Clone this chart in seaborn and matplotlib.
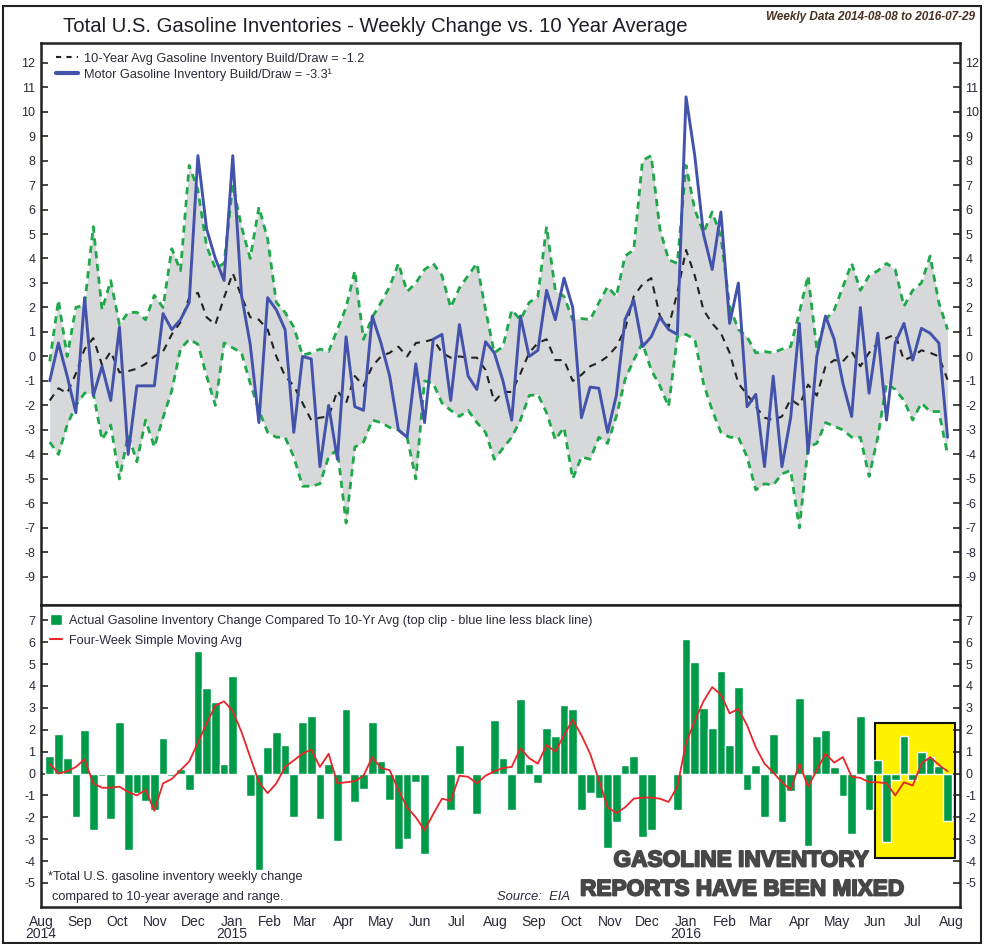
import numpy as np
import pandas as pd
import seaborn as sns
import matplotlib.pyplot as plt
import matplotlib.dates as mdates
import matplotlib.patheffects as pe
from matplotlib.patches import Rectangle, Patch
from matplotlib.lines import Line2D

# weekly data 2014-08-08 .. 2016-07-29
dates = pd.date_range('2014-08-08', periods=104, freq='7D')

blue_build = [-1.0, 0.55, -0.8, -2.3, 2.4, -1.6, -0.4, -1.8, 1.2, -4.0,
              -1.2, -1.2, -1.2, 1.75, 1.1, 1.5, 2.2, 8.2, 5.2, 4.0,
              3.1, 8.2, 2.5, 0.5, -2.7, 2.4, 1.9, 1.1, -3.1, 0.0,
              -0.1, -4.5, -2.0, -4.2, 0.8, -2.05, -2.2, 1.65, 0.55, -0.8,
              -3.0, -3.3, -0.3, -2.7, 0.7, 0.9, -1.8, 1.3, -0.8, -1.35,
              0.6, 0.15, -1.0, -2.6, 1.65, 0.0, 0.25, 2.7, 1.5, 3.2,
              2.0, -2.5, -1.25, -1.3, -3.1, -1.6, 1.5, 2.3, 0.4, 0.8,
              1.6, 1.1, 0.9, 10.6, 8.2, 5.0, 3.55, 5.9, 1.35, 3.0,
              -2.05, -1.55, -4.5, -0.8, -4.5, -2.5, 1.35, -3.95, 0.0, 1.65,
              0.7, -1.1, -2.45, 2.0, -1.5, 0.95, -2.6, 0.55, 1.35, -0.15,
              1.15, 0.95, 0.55, -3.3]

avg_10yr = [-1.8, -1.3, -1.5, -0.7, 0.3, 0.75, -0.35, 0.2, -0.65, -0.6,
            -0.5, -0.3, 0.0, 0.2, 0.9, 1.4, 2.4, 2.6, 1.6, 1.3,
            2.4, 3.4, 2.45, 1.6, 1.5, 1.1, 0.0, -0.8, -1.2, -1.9,
            -2.6, -2.5, -2.45, -1.4, -1.9, -0.8, -1.2, -0.4, 0.0, 0.15,
            0.4, 0.0, 0.55, 0.6, 0.7, 0.15, -0.05, 0.0, -0.05, -0.05,
            -0.55, -1.85, -1.45, -1.45, -0.7, 0.15, 0.55, 0.7, -0.15, -0.15,
            -1.0, -0.75, -0.4, -0.25, 0.0, 0.4, 1.1, 2.45, 2.95, 3.2,
            1.65, 1.2, 2.6, 4.35, 3.3, 1.9, 1.35, 0.95, 0.15, -1.1,
            -1.55, -2.05, -2.5, -2.6, -2.45, -1.75, -2.0, -1.15, -1.6, -0.4,
            -0.15, -0.2, 0.2, -0.4, 0.15, 0.55, 0.75, 0.9, -0.15, 0.0,
            0.25, 0.15, 0.0, -0.95]

range_hi = [-0.2, 2.3, 0.0, 2.0, 2.1, 5.3, 1.9, 3.1, 1.3, 1.8,
            1.8, 1.5, 2.5, 2.0, 4.4, 3.5, 7.8, 6.8, 4.5, 3.6,
            3.8, 7.0, 5.3, 4.0, 6.1, 4.8, 2.2, 1.8, 1.2, 0.05,
            0.15, 0.3, 0.2, 1.1, 2.0, 3.5, 0.7, 1.6, 2.2, 2.85,
            3.8, 2.65, 3.0, 3.55, 3.8, 3.3, 2.0, 2.8, 3.3, 3.8,
            1.9, 0.15, 0.4, 1.9, 1.5, 2.2, 2.45, 5.3, 2.7, 2.45,
            1.5, 1.55, 1.5, 2.2, 2.85, 2.45, 4.1, 4.35, 8.0, 8.2,
            5.2, 3.95, 3.8, 7.8, 6.0, 5.05, 5.9, 4.9, 2.05, 1.1,
            0.8, 0.15, 0.2, 0.15, 0.3, 0.4, 1.8, 3.3, 0.3, 1.5,
            1.9, 2.85, 3.8, 2.7, 3.3, 3.5, 3.8, 3.55, 2.05, 2.7,
            3.0, 4.1, 2.2, 1.1]

range_lo = [-3.5, -4.0, -2.8, -2.0, -1.5, -1.5, -3.4, -2.8, -5.0, -3.2,
            -4.3, -2.6, -3.7, -2.5, -1.4, 0.3, 0.7, 0.5, -0.8, -2.0,
            0.55, 0.35, 0.15, -1.1, -2.2, -3.1, -3.3, -3.3, -4.1, -5.3,
            -5.3, -5.2, -4.1, -3.8, -6.8, -3.7, -3.5, -2.6, -2.7, -2.9,
            -3.0, -3.3, -5.0, -1.0, -1.1, -1.9, -2.2, -2.45, -2.2, -2.7,
            -3.1, -4.2, -3.75, -3.3, -2.6, -1.6, -1.55, -2.3, -3.4, -2.9,
            -5.0, -4.1, -4.2, -3.3, -3.55, -2.45, -0.95, -0.15, 0.55, -0.55,
            -1.2, -2.05, 0.8, 0.9, 0.7, -1.1, -2.2, -3.1, -3.3, -3.3,
            -4.1, -5.45, -5.2, -5.25, -4.8, -4.65, -7.0, -3.7, -3.55, -2.7,
            -2.85, -3.0, -3.3, -3.3, -4.9, -3.3, -1.1, -1.35, -1.8, -2.6,
            -1.9, -2.25, -2.25, -4.0]

vs_avg = [0.8, 1.8, 0.7, -2.0, 2.0, -2.6, -0.1, -2.1, 2.35, -3.5,
          -0.9, -1.25, -1.65, 1.6, -0.1, 0.2, -0.75, 5.6, 3.9, 3.25,
          0.45, 4.45, 0.0, -1.05, -4.4, 1.2, 1.9, 1.3, -2.0, 2.35,
          2.65, -2.1, 0.45, -3.1, 2.95, -1.3, -0.7, 2.35, 0.55, -1.2,
          -3.45, -3.0, -0.4, -3.7, 0.0, 0.0, -1.65, 1.3, 0.0, -1.85,
          0.0, 2.45, 0.7, -1.65, 3.4, 0.45, -0.45, 2.1, 1.7, 3.15,
          2.95, -1.65, -0.9, -1.1, -3.4, -2.2, 0.4, 0.8, -2.9, -2.6,
          0.0, 0.0, -1.65, 6.15, 5.1, 3.0, 2.1, 4.7, 1.3, 3.95,
          -0.75, 0.4, -2.0, 1.8, -2.2, -0.8, 3.45, -3.3, 1.7, 2.0,
          0.3, -1.05, -2.75, 2.65, -1.65, 0.6, -3.15, -0.3, 1.7, -0.3,
          1.0, 0.75, 0.35, -2.15]

sma_4wk = [0.45, 0.0, 0.1, 0.3, 0.65, -0.45, -0.65, -0.65, -0.6, -0.85,
           -1.0, -0.75, -1.7, -0.45, -0.25, 0.15, 0.55, 1.4, 2.3, 3.1,
           3.3, 2.85, 1.9, 0.75, -0.4, -0.9, -0.45, 0.3, 0.6, 0.9,
           1.1, 0.3, 0.9, -0.45, -0.4, -0.35, -0.1, 0.75, 0.25, 0.15,
           -0.75, -1.55, -2.0, -2.6, -1.85, -1.15, -1.25, -0.1, -0.15, -0.45,
           -0.1, 0.1, 0.25, 0.3, 1.15, 0.7, 0.45, 1.3, 1.0, 1.75,
           2.45, 1.75, 0.9, -0.3, -1.55, -1.8, -1.55, -1.15, -1.1, -1.1,
           -1.15, -1.3, -0.6, 1.4, 2.4, 3.3, 3.95, 3.6, 2.75, 2.95,
           2.2, 1.2, 0.45, 0.05, -0.4, -0.75, 0.45, -0.6, 0.15, 0.9,
           0.5, 0.75, -0.15, -0.2, -0.4, -0.4, -0.45, -1.0, -0.4, -0.55,
           0.45, 0.75, 0.4, 0.1]

month_ticks = pd.date_range('2014-08-01', '2016-08-01', freq='MS')
month_labels = ['Aug\n2014', 'Sep', 'Oct', 'Nov', 'Dec', 'Jan\n2015', 'Feb', 'Mar',
                'Apr', 'May', 'Jun', 'Jul', 'Aug', 'Sep', 'Oct', 'Nov', 'Dec',
                'Jan\n2016', 'Feb', 'Mar', 'Apr', 'May', 'Jun', 'Jul', 'Aug']

top_yticks = list(range(-9, 13))
bot_yticks = list(range(-5, 8))

sns.set_style('white')
plt.rcParams['font.family'] = ['Liberation Sans', 'DejaVu Sans']
plt.rcParams['axes.unicode_minus'] = False

W, H = 984, 944
fig = plt.figure(figsize=(W / 100, H / 100), dpi=100)


def box(x0, y0, x1, y1):
    # pixel box -> figure fraction
    return [x0 / W, 1 - y1 / H, (x1 - x0) / W, (y1 - y0) / H]


ax1 = fig.add_axes(box(41, 43, 960, 605))
ax2 = fig.add_axes(box(41, 605, 960, 907), sharex=ax1)

xlim = (pd.Timestamp('2014-08-01'), pd.Timestamp('2016-08-08'))
txt = '#2a2a3a'
green = '#1ea84a'
blue = '#4353ab'

# ---- top panel
ax1.fill_between(dates, range_lo, range_hi, color='#d7d8da', lw=0, zorder=1)
sns.lineplot(x=dates, y=range_hi, ax=ax1, color=green, lw=2, linestyle=(0, (2.6, 2)), zorder=2)
sns.lineplot(x=dates, y=range_lo, ax=ax1, color=green, lw=2, linestyle=(0, (2.6, 2)), zorder=2)
sns.lineplot(x=dates, y=avg_10yr, ax=ax1, color='#222222', lw=1.5, linestyle=(0, (3.5, 3)), zorder=3)
sns.lineplot(x=dates, y=blue_build, ax=ax1, color=blue, lw=2.1, zorder=4)
ax1.set_ylim(-10.15, 12.8)
ax1.set_yticks(top_yticks)
h1 = [Line2D([], [], color='#222222', lw=1.5, linestyle=(0, (2.5, 2.5))),
      Line2D([], [], color=blue, lw=3)]
ax1.legend(h1, ['10-Year Avg Gasoline Inventory Build/Draw = -1.2',
                'Motor Gasoline Inventory Build/Draw = -3.3¹'],
           loc='upper left', bbox_to_anchor=(0.006, 1.0), frameon=False, fontsize=9.2,
           handlelength=1.7, handletextpad=0.45, labelspacing=0.3, labelcolor=txt,
           borderaxespad=0.35)

# ---- bottom panel
x0 = mdates.date2num(pd.Timestamp('2016-06-01'))
x1 = mdates.date2num(pd.Timestamp('2016-08-04'))
ax2.add_patch(Rectangle((x0, -3.84), x1 - x0, 6.17, facecolor='#fff200',
                        edgecolor='#111111', lw=1.5, zorder=0.5))
ax2.bar(dates, vs_avg, width=7, color='#009b48', zorder=2)
sns.lineplot(x=dates, y=sma_4wk, ax=ax2, color='#e8252a', lw=1.3, zorder=3)
ax2.set_ylim(-6.1, 7.7)
ax2.set_yticks(bot_yticks)
h2 = [Patch(facecolor='#009b48'), Line2D([], [], color='#e8252a', lw=1.5)]
ax2.legend(h2, ['Actual Gasoline Inventory Change Compared To 10-Yr Avg (top clip - blue line less black line)',
                'Four-Week Simple Moving Avg'],
           loc='upper left', bbox_to_anchor=(0.0, 1.0), frameon=False, fontsize=9.1,
           handlelength=1.0, handleheight=1.0, handletextpad=0.5, labelspacing=0.6,
           labelcolor=txt, borderaxespad=0.3)

for ax in (ax1, ax2):
    ax.set_xlim(*xlim)
    ax.set_xlabel('')
    ax.set_ylabel('')
    for s in ax.spines.values():
        s.set_linewidth(1.8)
        s.set_color('#222222')
    ax.tick_params(axis='y', left=True, right=True, labelleft=True, labelright=True,
                   direction='in', length=5, width=1.2, labelsize=9,
                   labelcolor=txt, pad=4)

ax1.tick_params(axis='x', bottom=False, labelbottom=False)
ax2.set_xticks(month_ticks)
ax2.set_xticklabels(month_labels)
ax2.tick_params(axis='x', length=0, labelsize=10, labelcolor=txt, pad=6)
for lab in ax2.get_xticklabels():
    lab.set_linespacing(0.75)
    lab.set_verticalalignment('top')

# ---- texts
fig.text(375 / W, 1 - 27 / H, 'Total U.S. Gasoline Inventories - Weekly Change vs. 10 Year Average',
         ha='center', va='center', fontsize=14.6, color='#1e1e2a')
fig.text(975 / W, 1 - 17 / H, 'Weekly Data 2014-08-08 to 2016-07-29',
         ha='right', va='center', fontsize=8.5, style='italic', fontweight='bold', color='#4a3020')
fig.text(48 / W, 1 - 877 / H, '*Total U.S. gasoline inventory weekly change',
         ha='left', va='center', fontsize=9.2, color=txt)
fig.text(52 / W, 1 - 897 / H, 'compared to 10-year average and range.',
         ha='left', va='center', fontsize=9.2, color=txt)
fig.text(497 / W, 1 - 897 / H, 'Source:  EIA', ha='left', va='center',
         fontsize=9.4, style='italic', color=txt)
heavy = [pe.withStroke(linewidth=1.3, foreground='#474747')]
fig.text(741 / W, 1 - 860 / H, 'GASOLINE INVENTORY', ha='center', va='center',
         fontsize=16.3, fontweight='bold', color='#474747', path_effects=heavy)
fig.text(742 / W, 1 - 889 / H, 'REPORTS HAVE BEEN MIXED', ha='center', va='center',
         fontsize=16.3, fontweight='bold', color='#474747', path_effects=heavy)

fig.add_artist(Rectangle((3 / W, 1 / H), 978 / W, 937 / H, transform=fig.transFigure,
                         fill=False, lw=1.5, edgecolor='#222222'))

fig.savefig('out.png', dpi=100)
